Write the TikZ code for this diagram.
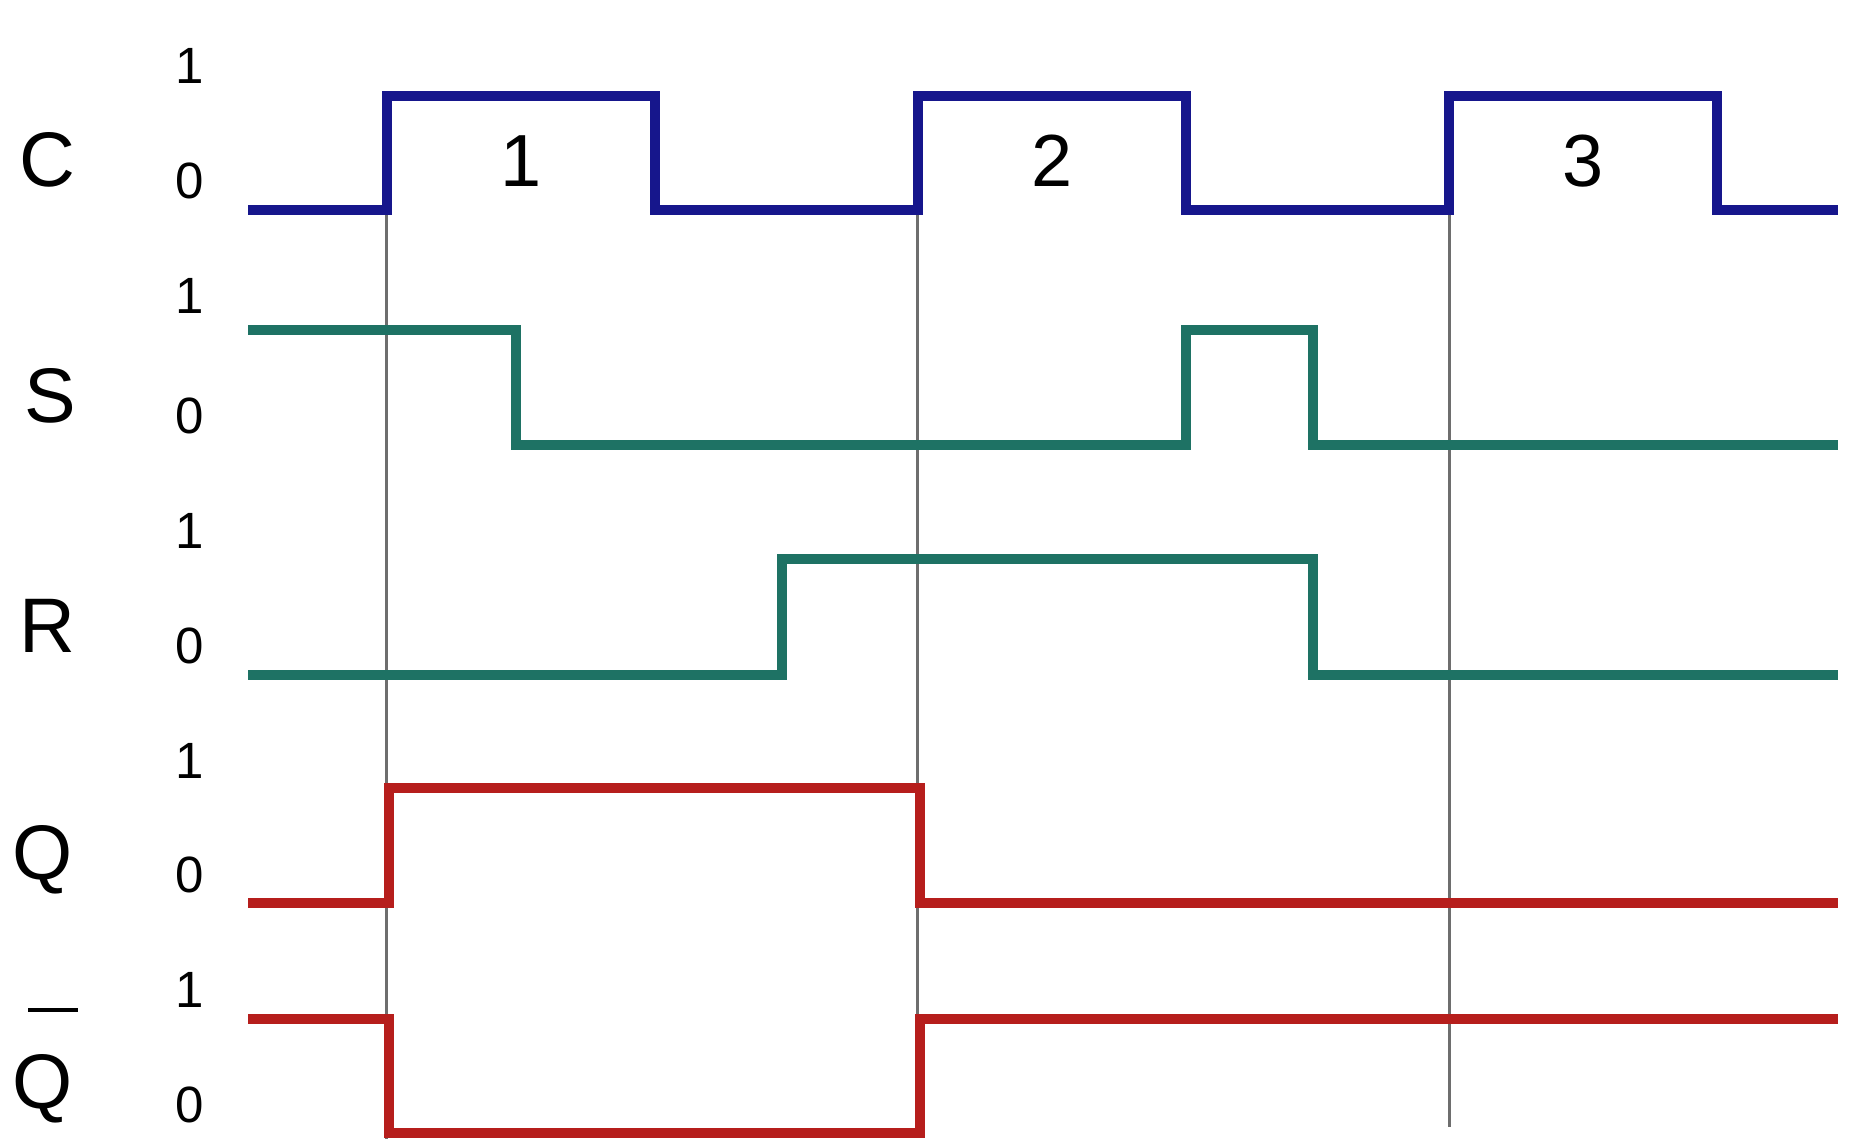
\documentclass[tikz,border=0pt]{standalone}
\usepackage{fontspec}
\setmainfont{Liberation Sans}
\definecolor{clkblue}{RGB}{22,22,140}
\definecolor{sigteal}{RGB}{30,114,100}
\definecolor{sigred}{RGB}{182,30,28}
\definecolor{gridgrey}{RGB}{110,110,110}
\begin{document}
\begin{tikzpicture}[x=0.01cm,y=-0.01cm,
  wave/.style={line width=0.095cm, line join=miter},
  clkwave/.style={wave, draw=clkblue},
  tealwave/.style={wave, draw=sigteal},
  redwave/.style={wave, draw=sigred},
  marker/.style={draw=gridgrey, line width=0.03cm},
  siglabel/.style={anchor=base, inner sep=0pt, font=\fontsize{22}{26}\selectfont},
  levlabel/.style={anchor=base, inner sep=0pt, font=\fontsize{14.5}{17}\selectfont},
  pulselabel/.style={anchor=base, inner sep=0pt, font=\fontsize{21}{25}\selectfont}]
\useasboundingbox[fill=white] (0,0) rectangle (1850,1145);

% vertical time markers
\coordinate (m1a) at (386,210); \coordinate (m1b) at (386,1139);
\coordinate (m2a) at (917,210); \coordinate (m2b) at (917,1133);
\coordinate (m3a) at (1449,210); \coordinate (m3b) at (1449,1127);
\draw[marker] (m1a) -- (m1b);
\draw[marker] (m2a) -- (m2b);
\draw[marker] (m3a) -- (m3b);

% C clock
\draw[clkwave] (248,210) -- (387,210) -- (387,96) -- (655,96) -- (655,210) -- (918,210) -- (918,96) -- (1186,96) -- (1186,210) -- (1449,210) -- (1449,96) -- (1717,96) -- (1717,210) -- (1838,210);
% S
\draw[tealwave] (248,330) -- (516,330) -- (516,445) -- (1186,445) -- (1186,330) -- (1313,330) -- (1313,445) -- (1838,445);
% R
\draw[tealwave] (248,675) -- (782,675) -- (782,559) -- (1313,559) -- (1313,675) -- (1838,675);
% Q
\draw[redwave] (248,903) -- (389,903) -- (389,788) -- (920,788) -- (920,903) -- (1838,903);
% Q bar
\draw[redwave] (248,1019) -- (389,1019) -- (389,1133) -- (920,1133) -- (920,1019) -- (1838,1019);

% signal names
\node[siglabel] (lC) at (47,186) {C};
\node[siglabel] (lS) at (50,422) {S};
\node[siglabel] (lR) at (47,652) {R};
\node[siglabel] (lQ) at (43,879) {Q};
\node[siglabel] (lQb) at (43,1108) {Q};
\coordinate (barL) at (28,1010); \coordinate (barR) at (78,1010);
\draw[line width=0.045cm] (barL) -- (barR);

% level labels
\node[levlabel] (c1) at (190,83) {1};
\node[levlabel] (c0) at (190,198) {0};
\node[levlabel] (s1) at (190,313) {1};
\node[levlabel] (s0) at (190,433) {0};
\node[levlabel] (r1) at (190,548) {1};
\node[levlabel] (r0) at (190,663) {0};
\node[levlabel] (q1) at (190,778) {1};
\node[levlabel] (q0) at (190,892) {0};
\node[levlabel] (qb1) at (190,1007) {1};
\node[levlabel] (qb0) at (190,1122) {0};

% pulse numbers
\node[pulselabel] (p1) at (521,186) {1};
\node[pulselabel] (p2) at (1052,186) {2};
\node[pulselabel] (p3) at (1583,186) {3};
\end{tikzpicture}
\end{document}
